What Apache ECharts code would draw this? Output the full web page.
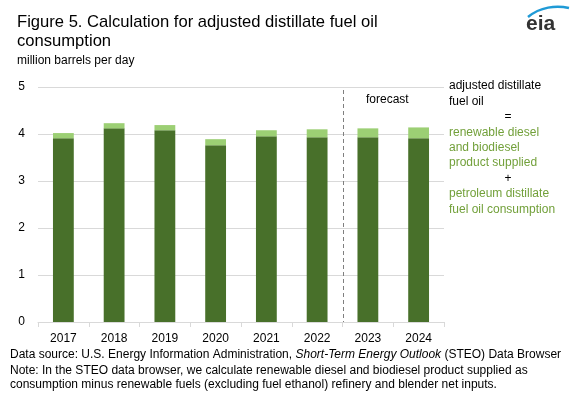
<!DOCTYPE html>
<html lang="en">
<head>
  <meta charset="UTF-8">
  <title>Figure 5</title>
  <style>
    html, body { margin: 0; padding: 0; background: #fff; }
    #chart { width: 572px; height: 396px; }
  </style>
</head>
<body>
  <div id="chart"></div>
  <script src="https://cdn.jsdelivr.net/npm/echarts@6/dist/echarts.min.js"></script>
  <script>
    // years on the x axis
    const years = ['2017', '2018', '2019', '2020', '2021', '2022', '2023', '2024'];
    // petroleum distillate fuel oil consumption (million b/d)
    const petroleum = [3.91, 4.12, 4.08, 3.76, 3.95, 3.93, 3.93, 3.91];
    // renewable diesel and biodiesel product supplied (million b/d)
    const renewable = [0.11, 0.11, 0.11, 0.13, 0.13, 0.17, 0.19, 0.23];
    const yTicks = [0, 1, 2, 3, 4, 5];

    const font = 'Liberation Sans, Arial, sans-serif';
    const greenText = '#72a03a';

    const chart = echarts.init(document.getElementById('chart'), null, { renderer: 'canvas' });

    const option = {
      animation: false,
      textStyle: { fontFamily: font },
      title: [{
        text: 'Figure 5. Calculation for adjusted distillate fuel oil\nconsumption',
        left: 12, top: 8,
        textStyle: { fontSize: 16.6, fontWeight: 'normal', color: '#000', lineHeight: 19, fontFamily: font }
      }, {
        text: 'million barrels per day',
        left: 12, top: 50,
        textStyle: { fontSize: 12, fontWeight: 'normal', color: '#000', fontFamily: font }
      }],
      grid: { left: 38, right: 128, top: 87, bottom: 74 },
      xAxis: {
        type: 'category',
        data: years,
        axisLine: { lineStyle: { color: '#d9d9d9' } },
        axisTick: { show: true, length: 5, lineStyle: { color: '#d9d9d9' } },
        axisLabel: { color: '#000', fontSize: 12, margin: 11, fontFamily: font }
      },
      yAxis: {
        type: 'value',
        min: yTicks[0], max: yTicks[yTicks.length - 1], interval: 1,
        axisLine: { show: false },
        axisTick: { show: false },
        axisLabel: { color: '#000', fontSize: 12, margin: 13, fontFamily: font },
        splitLine: { lineStyle: { color: '#d9d9d9' } }
      },
      series: [{
        name: 'petroleum distillate fuel oil consumption',
        type: 'bar',
        stack: 'total',
        barWidth: '41%',
        itemStyle: { color: '#48702a' },
        data: petroleum
      }, {
        name: 'renewable diesel and biodiesel product supplied',
        type: 'bar',
        stack: 'total',
        itemStyle: { color: '#9ccf74' },
        data: renewable
      }]
    };
    chart.setOption(option);

    // forecast divider between 2022 and 2023
    const p5 = chart.convertToPixel({ xAxisIndex: 0 }, years[5]);
    const p6 = chart.convertToPixel({ xAxisIndex: 0 }, years[6]);
    const divX = Math.round((p5 + p6) / 2) + 0.5;
    const yTop = chart.convertToPixel({ yAxisIndex: 0 }, 5);
    const yBot = chart.convertToPixel({ yAxisIndex: 0 }, 0);

    const textLines = [
      ['adjusted distillate', '#000', 0],
      ['fuel oil', '#000', 0],
      ['=', '#000', 1],
      ['renewable diesel', greenText, 0],
      ['and biodiesel', greenText, 0],
      ['product supplied', greenText, 0],
      ['+', '#000', 1],
      ['petroleum distillate', greenText, 0],
      ['fuel oil consumption', greenText, 0]
    ];

    const graphics = [{
      type: 'line',
      shape: { x1: divX, y1: yTop + 3, x2: divX, y2: yBot },
      style: { stroke: '#7f7f7f', lineWidth: 1, lineDash: [4, 3] }
    }, {
      type: 'text', left: 366, top: 94,
      style: { text: 'forecast', fill: '#000', font: '12px ' + font }
    }];
    textLines.forEach((t, i) => {
      graphics.push({
        type: 'text',
        x: t[2] ? 508 : 449,
        y: 80 + i * 15.4,
        style: { text: t[0], fill: t[1], font: '12px ' + font, textAlign: t[2] ? 'center' : 'left' }
      });
    });
    // footnotes
    graphics.push({
      type: 'text', x: 10, y: 349,
      style: {
        rich: {
          n: { fontSize: 12, fontFamily: font, fill: '#000' },
          i: { fontSize: 12, fontFamily: font, fill: '#000', fontStyle: 'italic' }
        },
        text: '{n|Data source: U.S. Energy Information Administration, }{i|Short-Term Energy Outlook}{n| (STEO) Data Browser}'
      }
    });
    graphics.push({
      type: 'text', x: 10, y: 363,
      style: {
        text: 'Note: In the STEO data browser, we calculate renewable diesel and biodiesel product supplied as\nconsumption minus renewable fuels (excluding fuel ethanol) refinery and blender net inputs.',
        fill: '#000', font: '12px ' + font, lineHeight: 14.5
      }
    });
    // eia logo
    graphics.push({
      type: 'bezierCurve',
      shape: { x1: 528, y1: 17, x2: 569, y2: 8, cpx1: 540, cpy1: 7, cpx2: 556, cpy2: 5 },
      style: { stroke: '#1f9ad6', lineWidth: 2.5, fill: null }
    });
    graphics.push({
      type: 'text', x: 526, y: 14,
      style: { text: 'eia', fill: '#333', font: 'bold 21px ' + font }
    });

    chart.setOption({ graphic: graphics });
  </script>
</body>
</html>
